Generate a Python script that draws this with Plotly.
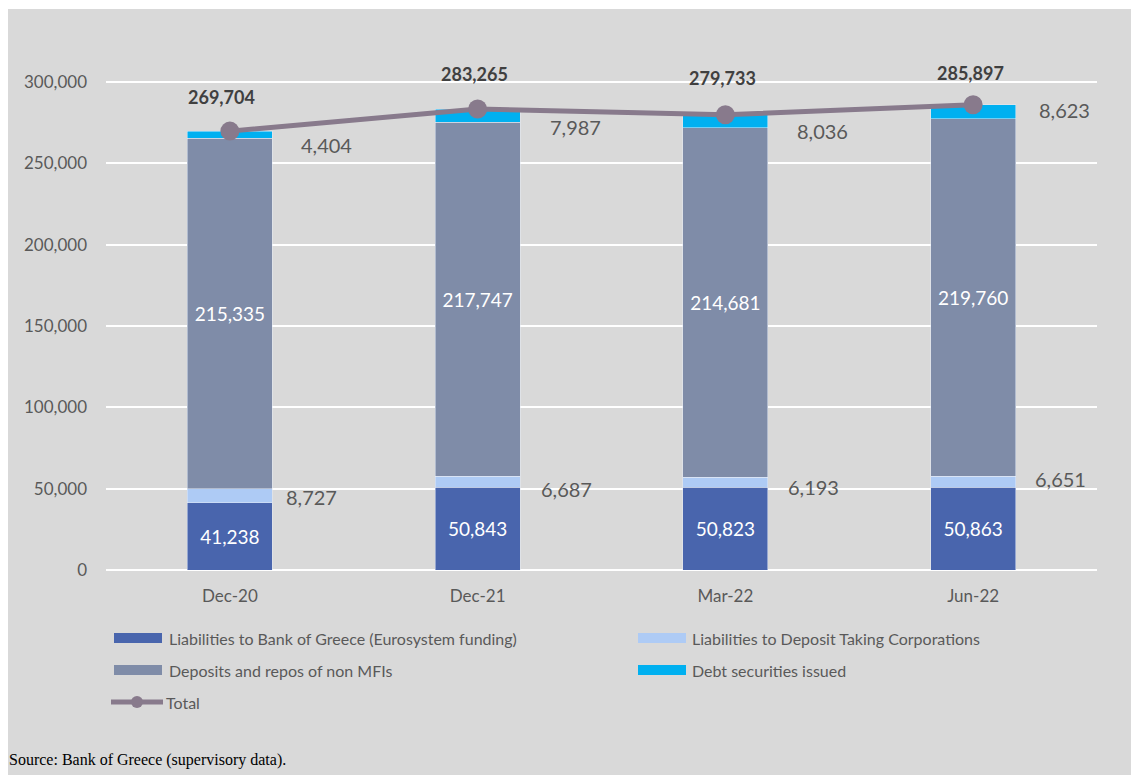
import plotly.graph_objects as go

# --- data (EUR million) ---
periods = ["Dec-20", "Dec-21", "Mar-22", "Jun-22"]
bog_funding = [41238, 50843, 50823, 50863]
dtc_liabilities = [8727, 6687, 6193, 6651]
non_mfi_deposits = [215335, 217747, 214681, 219760]
debt_securities = [4404, 7987, 8036, 8623]
totals = [269704, 283265, 279733, 285897]
y_ticks = [0, 50000, 100000, 150000, 200000, 250000, 300000]

series_names = [
    "Liabilities to Bank of Greece (Eurosystem funding)",
    "Liabilities to Deposit Taking Corporations",
    "Deposits and repos of non MFIs",
    "Debt securities issued",
    "Total",
]

# --- style ---
C_BOG = "#4965ad"
C_DTC = "#aecbf5"
C_DEP = "#7f8ca8"
C_DEBT = "#00b0f0"
C_TOTAL = "#887a8c"
BG = "#d9d9d9"
TXT = "#595959"
FONT = "Lato"

W, H = 1131, 775
L, R, T, B = 106, 34, 33, 205
PW, PH = W - L - R, H - T - B
Y_MAX = 330000
BAR_W = 0.343

# label nudges in pixels (dx, dy) for labels placed beside the bars
dtc_shift = [(82, -1), (89, -7), (88, -5), (87, 3)]
debt_shift = [(97, -10), (98, -11), (97, -10), (91, 2)]
total_shift = [(-8, 34), (-3, 35), (-3, 37), (-3, 32)]


def px_x(p):
    return (p - L) / PW


def px_y(p):
    return (H - B - p) / PH


fig = go.Figure()

fig.add_bar(
    x=periods, y=bog_funding, name=series_names[0], marker_color=C_BOG,
    width=BAR_W, text=[f"{v:,}" for v in bog_funding], textposition="inside",
    insidetextanchor="middle", textfont=dict(color="white", size=19, family=FONT),
    textangle=0, showlegend=False,
)
fig.add_bar(
    x=periods, y=dtc_liabilities, name=series_names[1], marker_color=C_DTC,
    width=BAR_W, showlegend=False,
)
fig.add_bar(
    x=periods, y=non_mfi_deposits, name=series_names[2], marker_color=C_DEP,
    width=BAR_W, text=[f"{v:,}" for v in non_mfi_deposits], textposition="inside",
    insidetextanchor="middle", textfont=dict(color="white", size=19, family=FONT),
    textangle=0, showlegend=False,
)
fig.add_bar(
    x=periods, y=debt_securities, name=series_names[3], marker_color=C_DEBT,
    width=BAR_W, showlegend=False,
)
fig.add_scatter(
    x=periods, y=totals, name=series_names[4], mode="lines+markers",
    line=dict(color=C_TOTAL, width=5), marker=dict(color=C_TOTAL, size=19),
    showlegend=False, cliponaxis=False,
)

annotations = []
for i, p in enumerate(periods):
    base = bog_funding[i]
    mid_dtc = base + dtc_liabilities[i] / 2
    annotations.append(dict(
        x=p, y=mid_dtc, text=f"{dtc_liabilities[i]:,}", showarrow=False,
        xshift=dtc_shift[i][0], yshift=dtc_shift[i][1],
        font=dict(size=20, color=TXT, family=FONT),
    ))
    top = base + dtc_liabilities[i] + non_mfi_deposits[i]
    mid_debt = top + debt_securities[i] / 2
    annotations.append(dict(
        x=p, y=mid_debt, text=f"{debt_securities[i]:,}", showarrow=False,
        xshift=debt_shift[i][0], yshift=debt_shift[i][1],
        font=dict(size=20, color=TXT, family=FONT),
    ))
    annotations.append(dict(
        x=p, y=totals[i], text=f"<b>{totals[i]:,}</b>", showarrow=False,
        xshift=total_shift[i][0], yshift=total_shift[i][1],
        font=dict(size=18, color="#404040", family=FONT),
    ))

# legend drawn as swatches + labels beneath the plot
shapes = []
legend_rows = [
    (0, 114, 167, 638),
    (1, 638, 690, 638),
    (2, 114, 167, 670),
    (3, 638, 690, 670),
]
legend_colors = [C_BOG, C_DTC, C_DEP, C_DEBT]
for idx, sx, tx, cy in legend_rows:
    shapes.append(dict(
        type="rect", xref="paper", yref="paper",
        x0=px_x(sx), x1=px_x(sx + 48), y0=px_y(cy + 5), y1=px_y(cy - 5),
        fillcolor=legend_colors[idx], line=dict(width=0),
    ))
    annotations.append(dict(
        xref="paper", yref="paper", x=px_x(tx), y=px_y(cy),
        xanchor="left", yanchor="middle", text=series_names[idx],
        showarrow=False, font=dict(size=16, color=TXT, family=FONT),
    ))
# total line sample
shapes.append(dict(
    type="line", xref="paper", yref="paper",
    x0=px_x(111), x1=px_x(163), y0=px_y(702), y1=px_y(702),
    line=dict(color=C_TOTAL, width=5),
))
shapes.append(dict(
    type="circle", xref="paper", yref="paper",
    x0=px_x(131), x1=px_x(143), y0=px_y(708), y1=px_y(696),
    fillcolor=C_TOTAL, line=dict(width=0),
))
annotations.append(dict(
    xref="paper", yref="paper", x=px_x(164), y=px_y(702),
    xanchor="left", yanchor="middle", text=series_names[4],
    showarrow=False, font=dict(size=16, color=TXT, family=FONT),
))

# white page edges around the grey panel
shapes.append(dict(
    type="rect", xref="paper", yref="paper", layer="below",
    x0=px_x(0), x1=px_x(8), y0=px_y(H), y1=px_y(0),
    fillcolor="white", line=dict(width=0),
))
shapes.append(dict(
    type="rect", xref="paper", yref="paper", layer="below",
    x0=px_x(0), x1=px_x(W), y0=px_y(9), y1=px_y(0),
    fillcolor="white", line=dict(width=0),
))

annotations.append(dict(
    xref="paper", yref="paper", x=px_x(7), y=px_y(760),
    xanchor="left", yanchor="middle",
    text="Source: Bank of Greece (supervisory data).", showarrow=False,
    font=dict(size=16, color="black", family="Liberation Serif"),
))

fig.update_layout(
    width=W, height=H,
    margin=dict(l=L, r=R, t=T, b=B, pad=0),
    paper_bgcolor=BG, plot_bgcolor=BG,
    barmode="stack",
    showlegend=False,
    annotations=annotations,
    shapes=shapes,
    font=dict(family=FONT, color=TXT),
    uniformtext=dict(mode=False),
)
fig.update_xaxes(
    range=[-0.5, 3.5], showgrid=False, showline=False, zeroline=False,
    tickfont=dict(size=17, color=TXT, family=FONT), ticks="",
    ticklabelstandoff=14,
)
fig.update_yaxes(
    range=[0, Y_MAX], tickvals=y_ticks, tickformat=",",
    showgrid=True, gridcolor="white", gridwidth=2,
    zeroline=True, zerolinecolor="white", zerolinewidth=2,
    showline=False, ticks="", ticklabelstandoff=18,
    tickfont=dict(size=17, color=TXT, family=FONT),
)

fig.write_html("out.html")
